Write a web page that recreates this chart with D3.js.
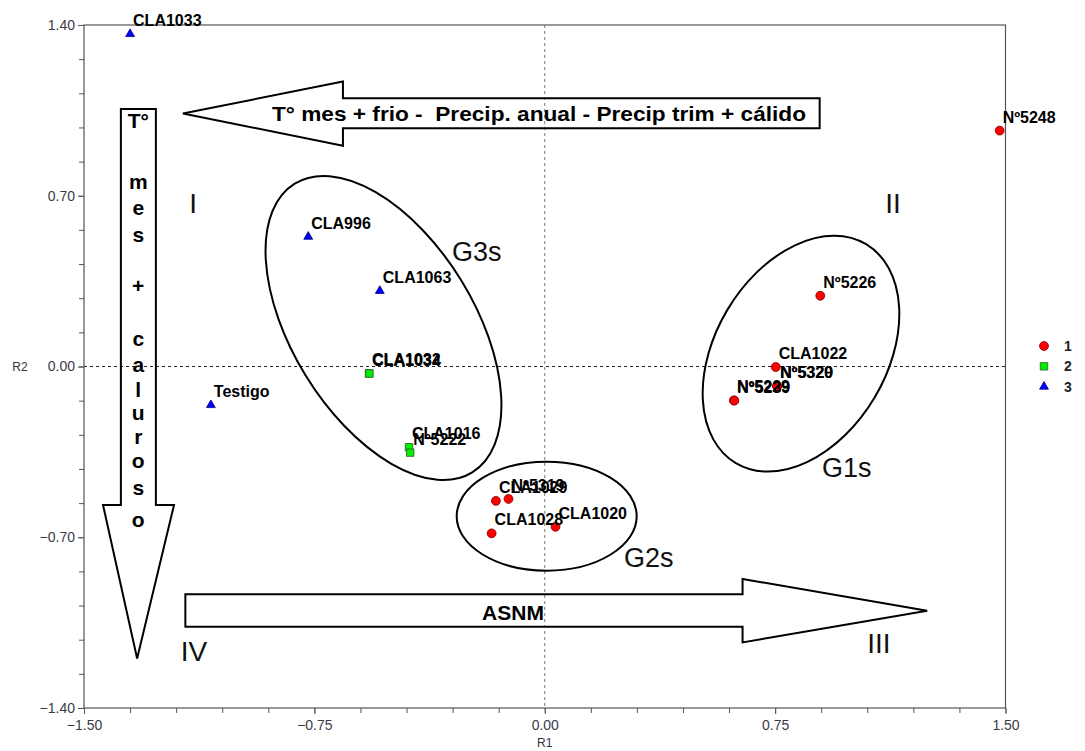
<!DOCTYPE html>
<html><head><meta charset="utf-8">
<script src="https://cdn.jsdelivr.net/npm/d3@7"></script>
<style>
body{margin:0;background:#fff}
svg{display:block}
text{font-family:"Liberation Sans",Arial,Helvetica,sans-serif}
</style>
</head><body><script>
// ---------- data ----------
const names = ["CLA1033","CLA996","CLA1063","CLA1032","CLA1034","Testigo","CLA1016","Nº5222",
  "CLA1029","Nº5319","CLA1028","CLA1020","Nº5226","CLA1022","Nº5320","Nº5329","Nº5229","Nº5239","Nº5248"];
const r1 = [-1.350,-0.770,-0.537,-0.572,-0.571,-1.087,-0.442,-0.438,
  -0.159,-0.118,-0.173,0.035,0.897,0.752,0.756,0.757,0.616,0.617,1.481];
const r2 = [1.363,0.532,0.310,-0.028,-0.029,-0.158,-0.331,-0.353,
  -0.551,-0.543,-0.684,-0.657,0.290,-0.002,-0.080,-0.081,-0.139,-0.140,0.967];
const group = [3,3,3,2,2,3,2,2,1,1,1,1,1,1,1,1,1,1,1];
const legendLabels = ["1","2","3"];
const xTickValues = [-1.5,-0.75,0,0.75,1.5];
const yTickValues = [-1.4,-0.7,0,0.7,1.4];
const xAxisTitle = "R1", yAxisTitle = "R2";

// annotation texts
const topArrowText = "T° mes + frio -  Precip. anual - Precip trim + cálido";
const bottomArrowText = "ASNM";
const verticalLetters = ["T°","m","e","s","+","c","a","l","u","r","o","s","o"];
const quadrantLabels = ["I","II","III","IV"];
const clusterLabels = ["G3s","G1s","G2s"];

// ---------- layout (annotation geometry in data units, sizes in px) ----------
const W = 1085, H = 751;
const x = d3.scaleLinear().domain([-1.5,1.5]).range([84,1005.5]);
const y = d3.scaleLinear().domain([-1.4,1.4]).range([708,25]);

const topArrowPts = [[-1.178,1.037],[-0.657,1.168],[-0.657,1.100],[0.895,1.100],[0.895,0.977],[-0.657,0.977],[-0.657,0.905]];
const bottomArrowPts = [[-1.170,-0.934],[0.644,-0.934],[0.644,-0.871],[1.245,-1.001],[0.644,-1.131],[0.644,-1.067],[-1.170,-1.067]];
const vertArrowPts = [[-1.380,1.056],[-1.266,1.056],[-1.266,-0.568],[-1.207,-0.568],[-1.327,-1.197],[-1.438,-0.568],[-1.380,-0.568]];
const topTextPos = [-0.0187,1.037];
const bottomTextPos = [-0.1034,-1.0065];
const vertLetterX = -1.3234;
const vertLetterY = [0.9777,0.7277,0.6211,0.5104,0.3014,0.0841,-0.0225,-0.125,-0.2193,-0.3177,-0.416,-0.5267,-0.6579];
const quadPos = [[-1.145,0.6293],[1.1336,0.6293],[1.088,-1.1732],[-1.1417,-1.206]];
const clusterLabelPos = [[-0.3019,0.4325],[0.9026,-0.453],[0.258,-0.822]];
const ellipses = [
  {c:[-0.525,0.1578], rx:169.4, ry:91.2, rot:58.4},
  {c:[0.8342,0.0525], rx:127.4, ry:85.7, rot:-59.25},
  {c:[0.0063,-0.6137], rx:90, ry:54.5, rot:0}
];

const styles = {
  1:{type:d3.symbolCircle, size:62, fill:"#ff0000", stroke:"#7a0000"},
  2:{type:d3.symbolSquare, size:56, fill:"#00ee00", stroke:"#2d5a2d"},
  3:{type:d3.symbolTriangle, size:34, fill:"#0000ff", stroke:"#000080"}
};

// ---------- drawing ----------
const svg = d3.select("body").append("svg").attr("width",W).attr("height",H);
svg.append("rect").attr("width",W).attr("height",H).attr("fill","#fff");

// zero reference lines
svg.append("line").attr("x1",x(-1.5)).attr("x2",x(1.5)).attr("y1",y(0)).attr("y2",y(0))
  .attr("stroke","#222").attr("stroke-width",1).attr("stroke-dasharray","3,3");
svg.append("line").attr("x1",x(0)).attr("x2",x(0)).attr("y1",y(1.4)).attr("y2",y(-1.4))
  .attr("stroke","#777").attr("stroke-width",1).attr("stroke-dasharray","3,3");

// axes: minor + major ticks
const xMinor = d3.range(21).map(i => -1.5 + i*0.15);
const yMinor = d3.range(21).map(i => -1.4 + i*0.14);
const fmt = d3.format(".2f");

const gx = svg.append("g").attr("transform",`translate(0,${y(-1.4)})`);
gx.call(d3.axisBottom(x).tickValues(xMinor).tickSize(5).tickFormat(""));
gx.append("g").call(d3.axisBottom(x).tickValues(xTickValues).tickSize(6).tickPadding(6).tickFormat(fmt));
gx.selectAll(".domain").remove();
const gy = svg.append("g").attr("transform",`translate(${x(-1.5)},0)`);
gy.call(d3.axisLeft(y).tickValues(yMinor).tickSize(5).tickFormat(""));
gy.append("g").call(d3.axisLeft(y).tickValues(yTickValues).tickSize(6).tickPadding(3).tickFormat(fmt));
gy.selectAll(".domain").remove();
svg.selectAll(".tick line").attr("stroke","#555");
svg.selectAll(".tick text").attr("fill","#3a3a48").style("font-size","14px").style("font-family","'Liberation Sans',Arial,sans-serif");

// frame
svg.append("rect").attr("x",x(-1.5)).attr("y",y(1.4)).attr("width",x(1.5)-x(-1.5)).attr("height",y(-1.4)-y(1.4))
  .attr("fill","none").attr("stroke","#555").attr("stroke-width",1.2);

// axis titles
svg.append("text").attr("x",x(0)).attr("y",747).attr("text-anchor","middle")
  .style("font-size","12px").attr("fill","#333").text(xAxisTitle);
svg.append("text").attr("x",20).attr("y",y(0)+4).attr("text-anchor","middle")
  .style("font-size","12px").attr("fill","#333").text(yAxisTitle);

// arrows
const line = d3.line().x(d=>x(d[0])).y(d=>y(d[1])).curve(d3.curveLinearClosed);
[topArrowPts,bottomArrowPts,vertArrowPts].forEach(p=>{
  svg.append("path").attr("d",line(p)).attr("fill","none").attr("stroke","#000").attr("stroke-width",2);
});
svg.append("text").attr("x",x(topTextPos[0])).attr("y",y(topTextPos[1])+7.5).attr("text-anchor","middle")
  .attr("textLength",534).attr("lengthAdjust","spacingAndGlyphs").attr("xml:space","preserve")
  .style("white-space","pre")
  .style("font-size","21px").style("font-weight","bold").text(topArrowText);
svg.append("text").attr("x",x(bottomTextPos[0])).attr("y",y(bottomTextPos[1])+7.5).attr("text-anchor","middle")
  .style("font-size","21px").style("font-weight","bold").text(bottomArrowText);
svg.selectAll(".vl").data(verticalLetters).join("text").attr("class","vl")
  .attr("x",x(vertLetterX)).attr("y",(d,i)=>y(vertLetterY[i])).attr("text-anchor","middle")
  .style("font-size","21px").style("font-weight","bold").text(d=>d);

// quadrant and cluster labels
svg.selectAll(".ql").data(quadrantLabels).join("text").attr("class","ql")
  .attr("x",(d,i)=>x(quadPos[i][0])).attr("y",(d,i)=>y(quadPos[i][1])).attr("text-anchor","middle")
  .style("font-size","28px").attr("fill","#111").text(d=>d);
svg.selectAll(".cl").data(clusterLabels).join("text").attr("class","cl")
  .attr("x",(d,i)=>x(clusterLabelPos[i][0])).attr("y",(d,i)=>y(clusterLabelPos[i][1]))
  .style("font-size","27px").attr("fill","#111").text(d=>d);

// ellipses
svg.selectAll(".el").data(ellipses).join("ellipse").attr("class","el")
  .attr("transform",d=>`translate(${x(d.c[0])},${y(d.c[1])}) rotate(${d.rot})`)
  .attr("rx",d=>d.rx).attr("ry",d=>d.ry).attr("fill","none").attr("stroke","#000").attr("stroke-width",2);

// points
const idx = d3.range(names.length);
svg.selectAll(".pt").data(idx).join("path").attr("class","pt")
  .attr("transform",i=>`translate(${x(r1[i])},${y(r2[i])})`)
  .attr("d",i=>d3.symbol().type(styles[group[i]].type).size(styles[group[i]].size)())
  .attr("fill",i=>styles[group[i]].fill).attr("stroke",i=>styles[group[i]].stroke).attr("stroke-width",0.8);
svg.selectAll(".lbl").data(idx).join("text").attr("class","lbl")
  .attr("x",i=>x(r1[i])+3).attr("y",i=>y(r2[i])-8)
  .style("font-size","16px").style("font-weight","bold").attr("fill","#000").text(i=>names[i]);

// legend
const lg = svg.append("g");
legendLabels.forEach((t,i)=>{
  const s = styles[i+1];
  const yy = 346 + i*20.3;
  lg.append("path").attr("transform",`translate(1044,${yy})`)
    .attr("d",d3.symbol().type(s.type).size(s.size)()).attr("fill",s.fill).attr("stroke",s.stroke).attr("stroke-width",0.8);
  lg.append("text").attr("x",1064).attr("y",yy+5).style("font-size","14px").style("font-weight","bold").attr("fill","#222").text(t);
});
</script></body></html>
